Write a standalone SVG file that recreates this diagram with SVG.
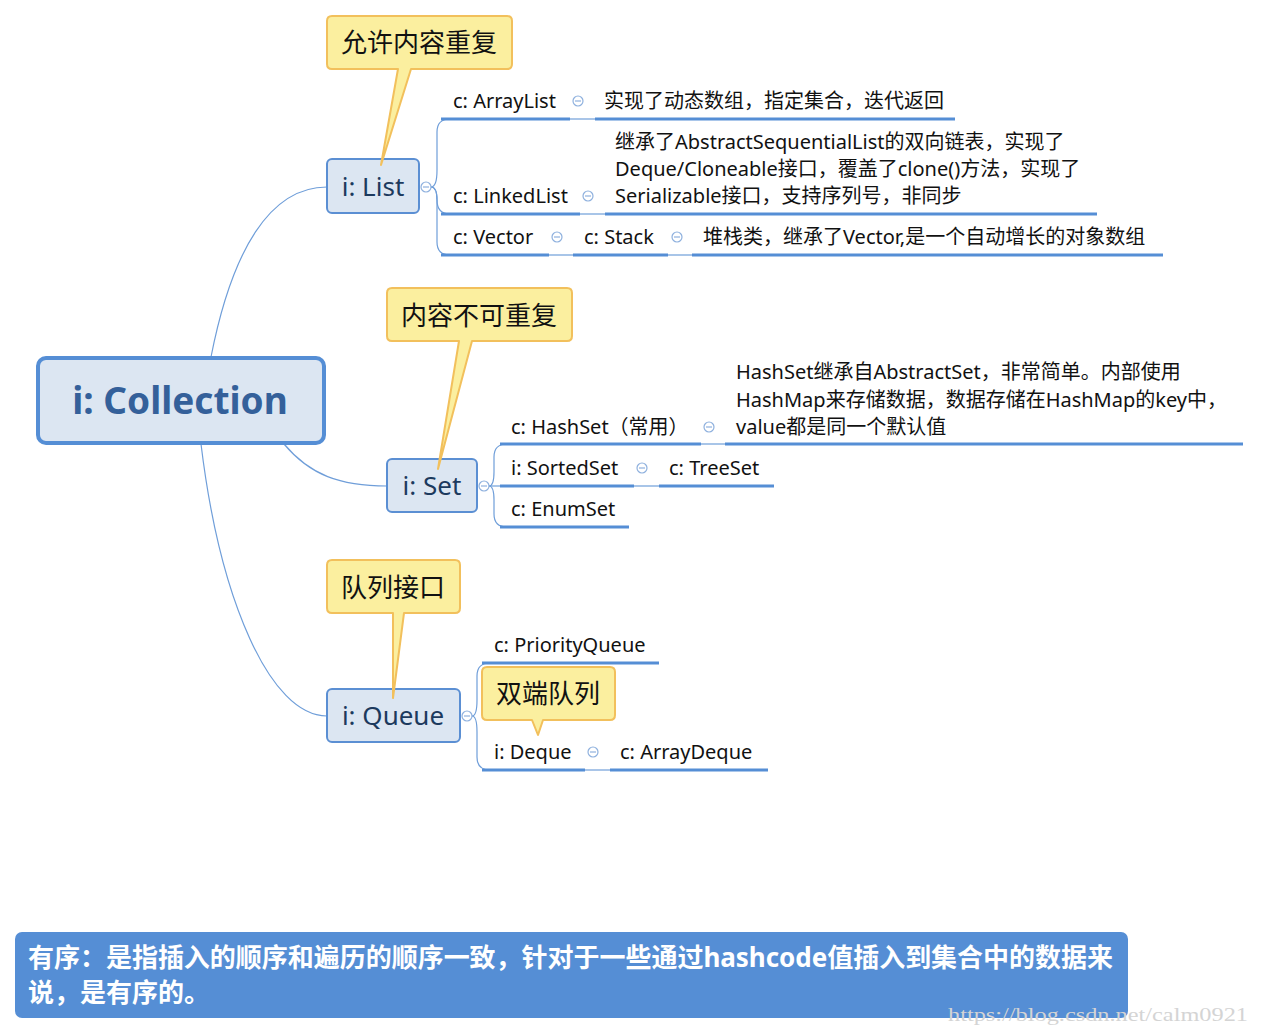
<svg xmlns="http://www.w3.org/2000/svg" width="1261" height="1034" viewBox="0 0 1261 1034">
<style>
text{font-family:"Noto Sans","Noto Sans CJK SC",sans-serif;}
.t{font-size:20px;fill:#111;}
.nt{font-size:26px;fill:#1c3a5e;}
.ct{font-size:26px;fill:#111;}
.node{fill:#dce6f2;stroke:#5b8fd3;stroke-width:2;}
.call{fill:#fbef9f;stroke:#f2c05c;stroke-width:2;stroke-linejoin:round;}
.conn{fill:none;stroke:#6f9ed9;stroke-width:1.2;}
.ul{stroke:#558ed5;stroke-width:3;}
.thin{stroke:#6f9ed9;stroke-width:1.2;}
.col{fill:#fff;stroke:#8fb1de;stroke-width:1.2;}
.minus{stroke:#8fb1de;stroke-width:1.2;}
</style>
<rect width="1261" height="1034" fill="#fff"/>
<g id="connectors">
<path class="conn" d="M211,357 C232,250 270,187 327,187"/>
<path class="conn" d="M284,444 C310,475 340,486 387,486"/>
<path class="conn" d="M201,444 C220,600 270,716 327,716"/>
<path class="conn" d="M431,187 Q437,187 437,170 V132 Q437,119 450,119"/>
<path class="conn" d="M431,187 Q437,187 437,200 Q437,214 450,214"/>
<path class="conn" d="M431,187 Q437,187 437,200 V242 Q437,255 450,255"/>
<path class="conn" d="M489,486 Q494,486 494,472 V457 Q494,444 507,444"/>
<path class="conn" d="M489,486 H502"/>
<path class="conn" d="M489,486 Q494,486 494,500 V514 Q494,527 507,527"/>
<path class="conn" d="M472,716 Q477,716 477,700 V676 Q477,663 490,663"/>
<path class="conn" d="M472,716 Q477,716 477,732 V757 Q477,770 490,770"/>
<line class="thin" x1="570" y1="119" x2="595" y2="119"/>
<line class="thin" x1="580" y1="214" x2="605" y2="214"/>
<line class="thin" x1="549" y1="255" x2="573" y2="255"/>
<line class="thin" x1="668" y1="255" x2="692" y2="255"/>
<line class="thin" x1="701" y1="444" x2="725" y2="444"/>
<line class="thin" x1="634" y1="486" x2="659" y2="486"/>
<line class="thin" x1="585" y1="770" x2="610" y2="770"/>
</g>
<g id="collection">
<rect x="38" y="358" width="286" height="85" rx="8" fill="#dce6f2" stroke="#558ed5" stroke-width="4"/>
<text x="180" y="414" text-anchor="middle" style="font-size:37px;font-weight:bold;fill:#34609a">i: Collection</text>
</g>
<g id="list">
<rect class="node" x="327" y="159" width="92" height="54" rx="5"/>
<text class="nt" x="373" y="196" text-anchor="middle">i: List</text>
<circle class="col" cx="426" cy="187" r="5"/><line class="minus" x1="423" y1="187" x2="429" y2="187"/>
</g>
<g id="arraylist">
<text class="t" x="453" y="108">c: ArrayList</text>
<line class="ul" x1="441" y1="119" x2="570" y2="119"/>
<circle class="col" cx="578" cy="101" r="5"/><line class="minus" x1="575" y1="101" x2="581" y2="101"/>
</g>
<g id="arraylist-desc">
<text class="t" x="604" y="108">实现了动态数组，指定集合，迭代返回</text>
<line class="ul" x1="595" y1="119" x2="955" y2="119"/>
</g>
<g id="linkedlist">
<text class="t" x="453" y="203">c: LinkedList</text>
<line class="ul" x1="441" y1="214" x2="580" y2="214"/>
<circle class="col" cx="588" cy="196" r="5"/><line class="minus" x1="585" y1="196" x2="591" y2="196"/>
</g>
<g id="linkedlist-desc">
<text class="t" x="615" y="149">继承了AbstractSequentialList的双向链表，实现了</text>
<text class="t" x="615" y="176">Deque/Cloneable接口，覆盖了clone()方法，实现了</text>
<text class="t" x="615" y="203">Serializable接口，支持序列号，非同步</text>
<line class="ul" x1="605" y1="214" x2="1097" y2="214"/>
</g>
<g id="vector">
<text class="t" x="453" y="244">c: Vector</text>
<line class="ul" x1="441" y1="255" x2="549" y2="255"/>
<circle class="col" cx="557" cy="237" r="5"/><line class="minus" x1="554" y1="237" x2="560" y2="237"/>
</g>
<g id="stack">
<text class="t" x="584" y="244">c: Stack</text>
<line class="ul" x1="573" y1="255" x2="668" y2="255"/>
<circle class="col" cx="677" cy="237" r="5"/><line class="minus" x1="674" y1="237" x2="680" y2="237"/>
</g>
<g id="stack-desc">
<text class="t" x="703" y="244">堆栈类，继承了Vector,是一个自动增长的对象数组</text>
<line class="ul" x1="692" y1="255" x2="1163" y2="255"/>
</g>
<g id="set">
<rect class="node" x="387" y="459" width="90" height="53" rx="5"/>
<text class="nt" x="432" y="495" text-anchor="middle">i: Set</text>
<circle class="col" cx="484" cy="486" r="5"/><line class="minus" x1="481" y1="486" x2="487" y2="486"/>
</g>
<g id="hashset">
<text class="t" x="511" y="434">c: HashSet（常用）</text>
<line class="ul" x1="500" y1="444" x2="701" y2="444"/>
<circle class="col" cx="709" cy="427" r="5"/><line class="minus" x1="706" y1="427" x2="712" y2="427"/>
</g>
<g id="hashset-desc">
<text class="t" x="736" y="379">HashSet继承自AbstractSet，非常简单。内部使用</text>
<text class="t" x="736" y="407">HashMap来存储数据，数据存储在HashMap的key中，</text>
<text class="t" x="736" y="434">value都是同一个默认值</text>
<line class="ul" x1="725" y1="444" x2="1243" y2="444"/>
</g>
<g id="sortedset">
<text class="t" x="511" y="475">i: SortedSet</text>
<line class="ul" x1="500" y1="486" x2="634" y2="486"/>
<circle class="col" cx="642" cy="468" r="5"/><line class="minus" x1="639" y1="468" x2="645" y2="468"/>
</g>
<g id="treeset">
<text class="t" x="669" y="475">c: TreeSet</text>
<line class="ul" x1="659" y1="486" x2="774" y2="486"/>
</g>
<g id="enumset">
<text class="t" x="511" y="516">c: EnumSet</text>
<line class="ul" x1="500" y1="527" x2="629" y2="527"/>
</g>
<g id="queue">
<rect class="node" x="327" y="689" width="133" height="53" rx="5"/>
<text class="nt" x="393" y="725" text-anchor="middle">i: Queue</text>
<circle class="col" cx="467" cy="716" r="5"/><line class="minus" x1="464" y1="716" x2="470" y2="716"/>
</g>
<g id="priorityqueue">
<text class="t" x="494" y="652">c: PriorityQueue</text>
<line class="ul" x1="482" y1="663" x2="659" y2="663"/>
</g>
<g id="deque">
<text class="t" x="494" y="759">i: Deque</text>
<line class="ul" x1="482" y1="770" x2="585" y2="770"/>
<circle class="col" cx="593" cy="752" r="5"/><line class="minus" x1="590" y1="752" x2="596" y2="752"/>
</g>
<g id="arraydeque">
<text class="t" x="620" y="759">c: ArrayDeque</text>
<line class="ul" x1="610" y1="770" x2="768" y2="770"/>
</g>
<g id="callout-list">
<path class="call" d="M332,16 H507 Q512,16 512,21 V64 Q512,69 507,69 H411 L381,165 L398,69 H332 Q327,69 327,64 V21 Q327,16 332,16 Z"/>
<text class="ct" x="419" y="52" text-anchor="middle">允许内容重复</text>
</g>
<g id="callout-set">
<path class="call" d="M392,288 H567 Q572,288 572,293 V336 Q572,341 567,341 H472 L438,469 L459,341 H392 Q387,341 387,336 V293 Q387,288 392,288 Z"/>
<text class="ct" x="479" y="325" text-anchor="middle">内容不可重复</text>
</g>
<g id="callout-queue">
<path class="call" d="M332,560 H455 Q460,560 460,565 V608 Q460,613 455,613 H404 L393,698 L393,613 H332 Q327,613 327,608 V565 Q327,560 332,560 Z"/>
<text class="ct" x="393" y="597" text-anchor="middle">队列接口</text>
</g>
<g id="callout-deque">
<path class="call" d="M487,667 H610 Q615,667 615,672 V715 Q615,720 610,720 H543 L538,735 L532,720 H487 Q482,720 482,715 V672 Q482,667 487,667 Z"/>
<text class="ct" x="548" y="703" text-anchor="middle">双端队列</text>
</g>
<g id="note">
<rect x="15" y="932" width="1113" height="86" rx="7" fill="#558ed5"/>
<text x="28" y="967" textLength="1085" lengthAdjust="spacing" style="font-size:26px;font-weight:bold;fill:#fff">有序：是指插入的顺序和遍历的顺序一致，针对于一些通过hashcode值插入到集合中的数据来</text>
<text x="28" y="1002" style="font-size:26px;font-weight:bold;fill:#fff">说，是有序的。</text>
</g>
<text x="948" y="1021" textLength="300" lengthAdjust="spacingAndGlyphs" style="font-family:'Liberation Serif',serif;font-size:18px;fill:#d4d4d4">https://blog.csdn.net/calm0921</text>
</svg>
